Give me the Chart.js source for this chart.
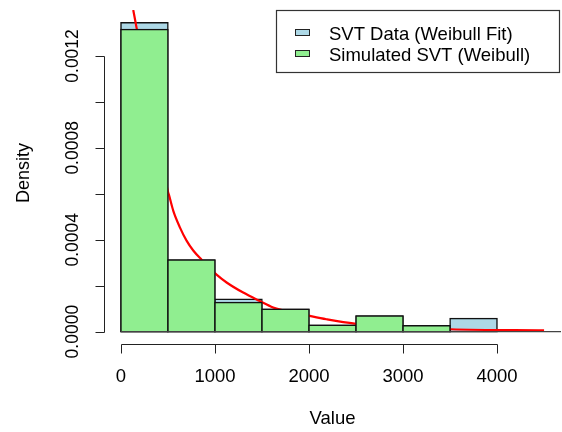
<!DOCTYPE html>
<html><head><meta charset="utf-8">
<script src="https://cdn.jsdelivr.net/npm/chart.js@4/dist/chart.umd.min.js"></script>
<style>html,body{margin:0;padding:0;background:#fff;}#wrap{width:562px;height:432px;position:relative;}</style>
</head><body><div id="wrap"><canvas id="c" width="562" height="432"></canvas></div>
<script>
// ---- data ----
const binWidth = 500;
const binStarts = [0, 500, 1000, 1500, 2000, 2500, 3000, 3500, 4000];
const svtData   = [0.001344, 0.000312, 0.000141, 0.000098, 0.000028, 0.0000685, 0.000026, 0.0000567, null];
const simSvt    = [0.001315, 0.000312, 0.000127, 0.000098, 0.000028, 0.0000685, 0.000026, null, null];
const curveX = [131, 167, 500, 513, 556, 627, 698, 769, 858, 1017, 1124, 1300, 1477, 1619, 1655, 2009, 2186, 2487, 3504, 4500];
const curveY = [0.00140, 0.001321, 0.00061, 0.000592, 0.000527, 0.000454, 0.000396, 0.000353, 0.000313, 0.000248,
                0.000214, 0.000170, 0.000133, 0.000105, 0.000100, 0.0000685, 0.000054, 0.000035, 0.0000105, 0.000006];
const xTicks = [0, 1000, 2000, 3000, 4000];
const yTicks = [0, 0.0002, 0.0004, 0.0006, 0.0008, 0.0010, 0.0012];
const yLabelTicks = [0, 0.0004, 0.0008, 0.0012];
const legendLabels = ['SVT Data (Weibull Fit)', 'Simulated SVT (Weibull)'];
const xTitle = 'Value', yTitle = 'Density';
const blueFill = '#ADD8E6', greenFill = '#90EE90';

const FONT = '"Liberation Sans", Arial, Helvetica, sans-serif';

function binPoints(vals){ return binStarts.map((b,i)=>({x:b+binWidth/2, y:vals[i]})); }

const rAxes = {
  id: 'rAxes',
  afterDraw(chart){
    const {ctx, chartArea: ca, scales: {x, y}} = chart;
    ctx.save();
    ctx.strokeStyle = '#222'; ctx.lineWidth = 1; ctx.fillStyle = '#000';
    // x axis
    const xa = Math.round(ca.bottom) + 0.5;
    ctx.beginPath();
    ctx.moveTo(Math.round(x.getPixelForValue(xTicks[0]))+0.5, xa);
    ctx.lineTo(Math.round(x.getPixelForValue(xTicks[xTicks.length-1]))+0.5, xa);
    xTicks.forEach(v=>{ const p = Math.round(x.getPixelForValue(v))+0.5; ctx.moveTo(p, xa); ctx.lineTo(p, xa+9); });
    // y axis
    const ya = Math.round(ca.left) + 0.5;
    ctx.moveTo(ya, Math.round(y.getPixelForValue(yTicks[0]))+0.5);
    ctx.lineTo(ya, Math.round(y.getPixelForValue(yTicks[yTicks.length-1]))+0.5);
    yTicks.forEach(v=>{ const p = Math.round(y.getPixelForValue(v))+0.5; ctx.moveTo(ya, p); ctx.lineTo(ya-9, p); });
    ctx.stroke();
    // x tick labels
    ctx.font = '18.5px ' + FONT;
    ctx.textAlign = 'center'; ctx.textBaseline = 'alphabetic';
    xTicks.forEach(v=> ctx.fillText(String(v), x.getPixelForValue(v), 382));
    ctx.fillText(xTitle, (ca.left+ca.right)/2, 423.5);
    // y tick labels (rotated)
    ctx.font = '17.5px ' + FONT;
    yLabelTicks.forEach(v=>{
      ctx.save(); ctx.translate(78, y.getPixelForValue(v)); ctx.rotate(-Math.PI/2);
      ctx.fillText(v.toFixed(4), 0, 0); ctx.restore();
    });
    ctx.font = '18px ' + FONT;
    ctx.save(); ctx.translate(29, 173); ctx.rotate(-Math.PI/2); ctx.fillText(yTitle, 0, 0); ctx.restore();
    // legend
    ctx.strokeStyle = '#333'; ctx.lineWidth = 1.2;
    ctx.strokeRect(276.5, 10.5, 283, 62);
    const fills = [blueFill, greenFill];
    const rows = [39.5, 60.5];
    ctx.font = '18.5px ' + FONT; ctx.textAlign = 'left';
    legendLabels.forEach((t,i)=>{
      ctx.fillStyle = fills[i];
      ctx.fillRect(295.5, rows[i]-10, 14, 6);
      ctx.strokeStyle = '#222'; ctx.lineWidth = 1;
      ctx.strokeRect(295.5, rows[i]-10, 14, 6);
      ctx.fillStyle = '#000';
      ctx.fillText(t, 329, rows[i]);
    });
    ctx.restore();
  }
};

const barCommon = {borderColor:'#111', borderWidth:1.5, borderSkipped:false, inflateAmount:0.75,
                   grouped:false, barPercentage:1, categoryPercentage:1};

new Chart(document.getElementById('c'), {
  type: 'bar',
  data: {
    datasets: [
      Object.assign({label: legendLabels[0], data: binPoints(svtData), backgroundColor: blueFill, order: 4}, barCommon),
      {type:'line', label:'Weibull density', data: curveX.map((v,i)=>({x:v, y:curveY[i]})),
       borderColor:'#FF0000', borderWidth:2.2, pointRadius:0, cubicInterpolationMode:'monotone', fill:false, order:3, clip:0},
      Object.assign({label: legendLabels[1], data: binPoints(simSvt), backgroundColor: greenFill, order: 2}, barCommon),
      {type:'line', label:'baseline', data:[{x:binStarts[0], y:0}, {x:binStarts[binStarts.length-1]+2*binWidth, y:0}],
       borderColor:'#444', borderWidth:1.2, pointRadius:0, fill:false, order:1, clip:0}
    ]
  },
  options: {
    responsive:false, animation:false, devicePixelRatio:1,
    layout:{padding:{left:104, right:1, top:10, bottom:88}},
    plugins:{legend:{display:false}, tooltip:{enabled:false}},
    scales:{
      x:{type:'linear', min:-180, max:4680, offset:false, display:false,
         afterBuildTicks:(s)=>{ s.ticks = xTicks.map(v=>({value:v})); }},
      y:{type:'linear', min:-0.0000538, max:0.0014, display:false,
         afterBuildTicks:(s)=>{ s.ticks = yTicks.map(v=>({value:v})); }}
    }
  },
  plugins:[rAxes]
});
</script></body></html>
